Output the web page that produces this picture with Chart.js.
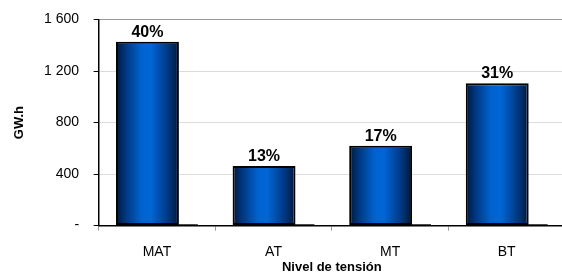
<!DOCTYPE html>
<html>
<head>
<meta charset="utf-8">
<script src="https://cdn.jsdelivr.net/npm/chart.js@4/dist/chart.umd.min.js"></script>
<style>
  html, body { margin:0; padding:0; background:#fff; overflow:hidden; }
  #wrap { position:relative; width:570px; height:275px; }
</style>
</head>
<body>
<div id="wrap"><canvas id="myChart"></canvas></div>
<script>
// data
const categories = ['MAT', 'AT', 'MT', 'BT'];
const energia = [1428, 463, 620, 1105];      // GW.h
const porcentajes = ['40%', '13%', '17%', '31%'];
const sombra = [10, 10, 10, 10];             // dark base strip beside each bar
const yTicks = [0, 400, 800, 1200, 1600];

const FONT = '"Liberation Sans", Arial, sans-serif';

function fmt(v){
  if(v===0) return '-';
  return String(v).replace(/\B(?=(\d{3})+(?!\d))/g, ' ');
}

// horizontal "cylinder" gradient for every bar of the main series
const gradientBars = {
  id:'gradientBars',
  beforeDatasetsDraw(chart){
    const meta = chart.getDatasetMeta(0);
    const ctx = chart.ctx;
    meta.data.forEach((bar)=>{
      const left = bar.x - bar.width/2, right = bar.x + bar.width/2;
      const g = ctx.createLinearGradient(left, 0, right, 0);
      g.addColorStop(0, '#001838');
      g.addColorStop(0.15, '#00367f');
      g.addColorStop(0.4, '#0062cf');
      g.addColorStop(0.55, '#0066d6');
      g.addColorStop(0.8, '#003c8c');
      g.addColorStop(1, '#001838');
      bar.options = Object.assign({}, bar.options, {backgroundColor:g});
    });
  }
};

// percentage labels above bars
const pctLabels = {
  id:'pctLabels',
  afterDatasetsDraw(chart){
    const meta = chart.getDatasetMeta(0);
    const ctx = chart.ctx;
    ctx.save();
    ctx.font = 'bold 16px ' + FONT;
    ctx.fillStyle = '#000';
    ctx.textAlign = 'center';
    ctx.textBaseline = 'alphabetic';
    meta.data.forEach((bar,i)=>{
      ctx.fillText(porcentajes[i], bar.x, bar.y - 5);
    });
    ctx.restore();
  }
};

const ctx = document.getElementById('myChart').getContext('2d');
new Chart(ctx, {
  type:'bar',
  data:{
    labels:categories,
    datasets:[
      {
        label:'GW.h',
        data:energia,
        backgroundColor:'#0062cf',
        borderColor:'#000',
        borderWidth:2,
        borderSkipped:false,
        categoryPercentage:0.325,
        barPercentage:3.32,
      },
      {
        label:'base',
        data:sombra,
        backgroundColor:'#111',
        borderWidth:0,
        categoryPercentage:0.325,
        barPercentage:3.32,
      }
    ]
  },
  options:{
    responsive:true,
    maintainAspectRatio:false,
    animation:false,
    events:[],
    layout:{ padding:{ left:12, right:5, top:19.5, bottom:0 } },
    scales:{
      x:{
        grid:{
          offset:true,
          drawOnChartArea:false,
          tickLength:5,
          tickColor:'#999',
        },
        border:{ color:'#000', width:1.5 },
        ticks:{
          color:'#000',
          padding:13,
          font:{ family:FONT, size:14 }
        },
        title:{
          display:true,
          text:'Nivel de tensión',
          color:'#000',
          padding:{ top:-14, bottom:0 },
          font:{ family:FONT, size:13, weight:'bold' }
        }
      },
      y:{
        min:0,
        max:1600,
        afterBuildTicks(axis){ axis.ticks = yTicks.map(v=>({value:v})); },
        afterFit(axis){ axis.paddingTop = 0; axis.paddingBottom = 0; },
        grid:{
          color:(c)=> c.tick && c.tick.value===1600 ? '#999' : '#dcdcdc',
          tickColor:'#000',
          tickLength:5,
        },
        border:{ color:'#000', width:1.5 },
        ticks:{
          color:'#000',
          padding:14.5,
          callback:(v)=>fmt(v),
          font:{ family:FONT, size:14 }
        },
        title:{
          display:true,
          text:'GW.h',
          color:'#000',
          padding:{ top:0, bottom:2 },
          font:{ family:FONT, size:13, weight:'bold' }
        }
      }
    },
    plugins:{
      legend:{ display:false },
      tooltip:{ enabled:false },
      title:{ display:false }
    }
  },
  plugins:[gradientBars, pctLabels]
});
</script>
</body>
</html>
